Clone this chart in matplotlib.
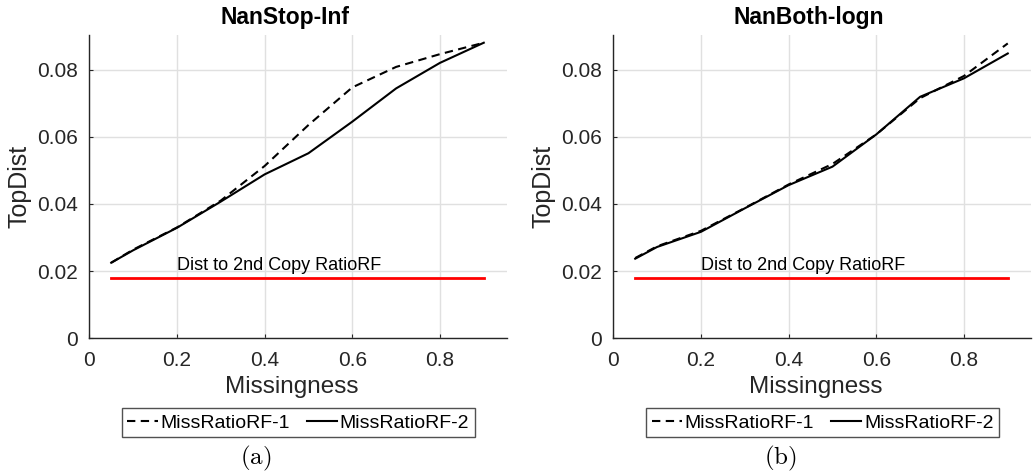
import matplotlib
matplotlib.use("Agg")
import matplotlib.pyplot as plt

plt.rcParams['font.family'] = ['Liberation Sans', 'DejaVu Sans']
plt.rcParams['mathtext.fontset'] = 'cm'

missingness = [0.05, 0.1, 0.2, 0.3, 0.4, 0.5, 0.6, 0.7, 0.8, 0.9]

titles = ["NanStop-Inf", "NanBoth-logn"]
captions = ["(a)", "(b)"]

rf1_a = [0.0225, 0.0264, 0.0330, 0.0410, 0.0513, 0.0635, 0.0747, 0.0808, 0.0846, 0.0880]
rf2_a = [0.0225, 0.0262, 0.0329, 0.0407, 0.0488, 0.0551, 0.0645, 0.0744, 0.0820, 0.0880]
rf1_b = [0.0239, 0.0274, 0.0320, 0.0388, 0.0458, 0.0519, 0.0607, 0.0715, 0.0781, 0.0878]
rf2_b = [0.0237, 0.0272, 0.0317, 0.0387, 0.0456, 0.0511, 0.0607, 0.0719, 0.0774, 0.0848]
series1 = [rf1_a, rf1_b]
series2 = [rf2_a, rf2_b]

baseline_value = 0.018
baseline_x = [0.05, 0.9]
baseline_label = "Dist to 2nd Copy RatioRF"
legend_labels = ["MissRatioRF-1", "MissRatioRF-2"]

xticks = [0, 0.2, 0.4, 0.6, 0.8]
xticklabels = ["0", "0.2", "0.4", "0.6", "0.8"]
yticks = [0, 0.02, 0.04, 0.06, 0.08]
yticklabels = ["0", "0.02", "0.04", "0.06", "0.08"]

W, H = 1033, 473
fig = plt.figure(figsize=(W / 100, H / 100), dpi=100)

ax_lefts = [89.3, 613.3]
ax_w = 417.7
ax_top, ax_bot = 35.0, 338.3
leg_centers = [298.2, 822.7]
cap_centers = [255.5, 780.5]

gray = (0.15, 0.15, 0.15)

for i in range(2):
    ax = fig.add_axes([ax_lefts[i] / W, 1 - ax_bot / H, ax_w / W, (ax_bot - ax_top) / H])
    l1, = ax.plot(missingness, series1[i], color='black', lw=1.5, dashes=(4, 2.6))
    l2, = ax.plot(missingness, series2[i], color='black', lw=1.5)
    ax.plot(baseline_x, [baseline_value, baseline_value], color='red', lw=2)
    ax.text(0.2, 0.0216, baseline_label, fontsize=13, va='center', ha='left', color='black')
    ax.set_xlim(0, 0.953)
    ax.set_ylim(0, 0.0903)
    ax.set_xticks(xticks)
    ax.set_xticklabels(xticklabels)
    ax.set_yticks(yticks)
    ax.set_yticklabels(yticklabels)
    ax.grid(True, color=(0.88, 0.88, 0.88), lw=1)
    ax.set_axisbelow(True)
    for s in ['top', 'right']:
        ax.spines[s].set_visible(False)
    for s in ['left', 'bottom']:
        ax.spines[s].set_color(gray)
        ax.spines[s].set_linewidth(1)
    ax.tick_params(direction='in', length=3, width=0.8, colors=gray, labelsize=15, pad=8)
    ax.tick_params(axis='x', pad=9)
    ax.set_xlabel("Missingness", fontsize=17.5, color=gray)
    ax.xaxis.set_label_coords(0.4846, -0.16, transform=ax.transAxes)
    ax.xaxis.label.set_va('center')
    ax.set_ylabel("TopDist", fontsize=18, color=gray, labelpad=4)
    ax.set_title(titles[i], fontsize=16.5, fontweight='bold', x=0.468, pad=8)
    leg = fig.legend([l1, l2], legend_labels, ncol=2, loc='center',
                     bbox_to_anchor=(leg_centers[i] / W, 1 - 422.7 / H),
                     fontsize=14, frameon=True, fancybox=False, edgecolor=gray,
                     handlelength=1.55, handletextpad=0.14, columnspacing=0.86,
                     borderpad=0.3, borderaxespad=0)
    leg.get_frame().set_linewidth(1)
    fig.text(cap_centers[i] / W, 1 - 458 / H, r"$\mathrm{" + captions[i] + "}$",
             fontsize=18, ha='center', va='center')

fig.savefig("out.png", dpi=100)
